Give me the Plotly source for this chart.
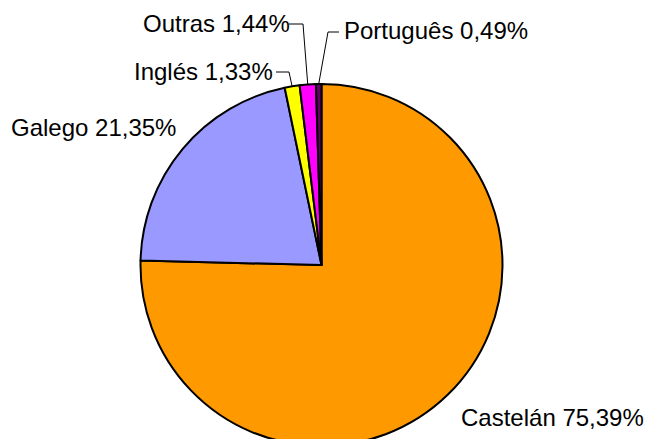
import math
import plotly.graph_objects as go

labels = ["Castelán", "Galego", "Inglés", "Outras", "Português"]
values = [75.39, 21.35, 1.33, 1.44, 0.49]
colors = ["#FF9900", "#9999FF", "#FFFF00", "#FF00FF", "#660066"]

W, H = 649, 446
cx, cy, R = 321.5, 265.0, 181.0

def px(x):
    return x / W

def py(y):
    return 1 - y / H

fig = go.Figure(go.Pie(
    labels=labels, values=values, sort=False, direction="clockwise", rotation=0,
    marker=dict(colors=colors, line=dict(color="black", width=2)),
    textinfo="none", hoverinfo="label+percent", showlegend=False,
    domain=dict(x=[px(cx - R), px(cx + R)], y=[py(cy + R), py(cy - R)]),
))

# label placement (left edge x, vertical centre y) in pixels
label_pos = {
    "Castelán": (459, 417),
    "Galego": (9, 127),
    "Inglés": (132, 71),
    "Outras": (141, 23),
    "Português": (342, 31),
}
# horizontal part of leader lines: (start x, end x, y)
leaders = {
    "Inglés": (276, 289, 72),
    "Outras": (289, 303, 24),
    "Português": (339, 328, 32),
}

total = sum(values)
cum = 0.0
annotations = []
shapes = []
for lab, v in zip(labels, values):
    mid = (cum + v / 2) / total
    cum += v
    ang = 2 * math.pi * mid
    ex = cx + R * math.sin(ang)
    ey = cy - R * math.cos(ang)
    txt = f"{lab} {v:.2f}".replace(".", ",") + "%"
    lx, ly = label_pos[lab]
    annotations.append(dict(
        x=px(lx), y=py(ly), xref="paper", yref="paper", text=txt,
        showarrow=False, xanchor="left", yanchor="middle",
        font=dict(family="Liberation Sans, Arial, sans-serif", size=24, color="black"),
    ))
    if lab in leaders:
        x0, x1, yy = leaders[lab]
        path = f"M {px(x0)} {py(yy)} L {px(x1)} {py(yy)} L {px(ex)} {py(ey)}"
        shapes.append(dict(type="path", xref="paper", yref="paper", path=path,
                           line=dict(color="black", width=1)))

fig.update_layout(
    width=W, height=H, margin=dict(l=0, r=0, t=0, b=0),
    paper_bgcolor="white", plot_bgcolor="white",
    annotations=annotations, shapes=shapes,
)

fig.write_html("out.html", config={"displayModeBar": False},
               post_script="document.body.style.margin='0';document.body.style.overflow='hidden';")
